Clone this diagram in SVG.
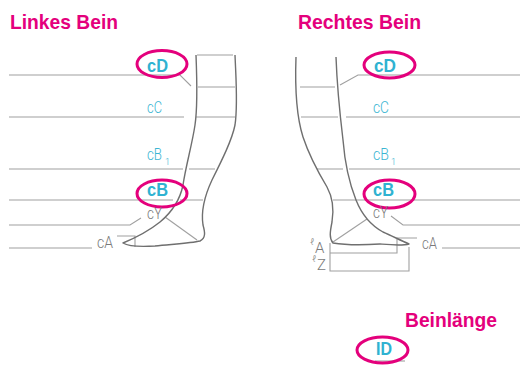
<svg xmlns="http://www.w3.org/2000/svg" width="525" height="372" viewBox="0 0 525 372">
<style>
.title{fill:#e4007c;font-family:"Liberation Sans",Arial,sans-serif;font-weight:bold;font-size:21px}
.lbl{fill:#3ab5d2;font-family:Roboto,"Liberation Sans",sans-serif;font-weight:300;font-size:17px}
.lblb{fill:#2fb2d1;font-family:"Liberation Sans",Arial,sans-serif;font-weight:bold;font-size:18px}
.gl{fill:#7a7a7a;font-family:Roboto,"Liberation Sans",sans-serif;font-weight:300;font-size:17px}
.sub{fill:#3ab5d2;font-family:Roboto,"Liberation Sans",sans-serif;font-weight:300;font-size:9px}
.ln{stroke:#a0a0a0;stroke-width:1.1;fill:none}
.leg{stroke:#6f6f6f;stroke-width:1.4;fill:none;stroke-linejoin:round}
.ring{stroke:#e4007c;stroke-width:3;fill:none}
</style>
<rect width="525" height="372" fill="#ffffff"/>
<g id="titles">
<text class="title" x="10" y="29" textLength="108" lengthAdjust="spacingAndGlyphs">Linkes Bein</text>
<text class="title" x="298" y="29" textLength="123" lengthAdjust="spacingAndGlyphs">Rechtes Bein</text>
</g>
<g id="connectors">
<path class="ln" d="M197,55H233M198,87H235M196,117H235"/>
<path class="ln" d="M9,75H180L191,86"/>
<path class="ln" d="M9,117H184"/>
<path class="ln" d="M9,169H183M189,169H215"/>
<path class="ln" d="M9,200H173M180,200H203"/>
<path class="ln" d="M9,225H130L141,218"/>
<path class="ln" d="M9,248H92M117,236H135V247"/>
<path class="ln" d="M165,217L197,240"/>
<path class="ln" d="M300,87H335M301,117H338"/>
<path class="ln" d="M520,75H358L340,85"/>
<path class="ln" d="M346,117H520"/>
<path class="ln" d="M317,169H343M349,169H520"/>
<path class="ln" d="M333,200H520"/>
<path class="ln" d="M391,216L403,225H520"/>
<path class="ln" d="M442,248H520M417,238H397V253H330"/>
<path class="ln" d="M330,243V271H409V247"/>
<path class="ln" d="M367,219L333,242"/>
<path class="ln" d="M375,361H405"/>
</g>
<g id="left-leg">
<path class="leg" d="M196,55C197,80 198,105 195,125C192,145 186,165 183,185C180,200 172,212 160,222C150,230 135,238 123,243C128,246 140,247 155,246C175,244 192,243 200,241C206,238 205,232 203,225C201,212 205,195 212,180C222,160 232,140 235,125C238,105 236,80 235,55"/>
</g>
<g id="right-leg">
<path class="leg" d="M296,57C295,85 296,115 303,137C308,152 318,172 327,187C333,198 334,210 332,222C330,232 329,238 333,243C345,245 365,245 380,244C392,245 402,246 409,244C400,240 392,236 383,232C372,226 362,215 356,200C350,185 345,165 343,140C340,115 337,85 336,57"/>
</g>
<g id="left-cD"><text class="lblb" x="147" y="72" textLength="21" lengthAdjust="spacingAndGlyphs">cD</text><ellipse class="ring" cx="162" cy="64" rx="25" ry="13.5"/></g>
<g id="left-cC"><text class="lbl" x="147" y="113" textLength="15" lengthAdjust="spacingAndGlyphs">cC</text></g>
<g id="left-cB1"><text class="lbl" x="147" y="160" textLength="15" lengthAdjust="spacingAndGlyphs">cB</text><text class="sub" x="165" y="165">1</text></g>
<g id="left-cB"><text class="lblb" x="147" y="196" textLength="21" lengthAdjust="spacingAndGlyphs">cB</text><ellipse class="ring" cx="162" cy="193.5" rx="25" ry="13.5"/></g>
<g id="left-cY"><text class="gl" x="147" y="219" textLength="15" lengthAdjust="spacingAndGlyphs">cY</text></g>
<g id="left-cA"><text class="gl" x="97" y="248" textLength="16" lengthAdjust="spacingAndGlyphs">cA</text></g>
<g id="right-cD"><text class="lblb" x="374" y="72" textLength="22" lengthAdjust="spacingAndGlyphs">cD</text><ellipse class="ring" cx="389.5" cy="65" rx="25.5" ry="13"/></g>
<g id="right-cC"><text class="lbl" x="373" y="113" textLength="16" lengthAdjust="spacingAndGlyphs">cC</text></g>
<g id="right-cB1"><text class="lbl" x="373" y="160" textLength="16" lengthAdjust="spacingAndGlyphs">cB</text><text class="sub" x="391" y="165">1</text></g>
<g id="right-cB"><text class="lblb" x="373" y="196" textLength="21" lengthAdjust="spacingAndGlyphs">cB</text><ellipse class="ring" cx="389.5" cy="194" rx="25.5" ry="14"/></g>
<g id="right-cY"><text class="gl" x="373" y="218" textLength="15" lengthAdjust="spacingAndGlyphs">cY</text></g>
<g id="right-cA"><text class="gl" x="422" y="249" textLength="15" lengthAdjust="spacingAndGlyphs">cA</text></g>
<g id="right-lA"><text class="gl"><tspan x="310" y="245" font-size="9">ℓ</tspan><tspan x="315" y="253" font-size="15">A</tspan></text></g>
<g id="right-lZ"><text class="gl"><tspan x="312" y="262" font-size="9">ℓ</tspan><tspan x="317" y="270" font-size="15">Z</tspan></text></g>
<g id="beinlaenge"><text class="title" x="405" y="327" textLength="92" lengthAdjust="spacingAndGlyphs">Beinlänge</text></g>
<g id="lD"><text class="lblb" x="376" y="355" textLength="16" lengthAdjust="spacingAndGlyphs">ID</text><ellipse class="ring" cx="382.5" cy="350" rx="25.5" ry="13"/></g>
</svg>
